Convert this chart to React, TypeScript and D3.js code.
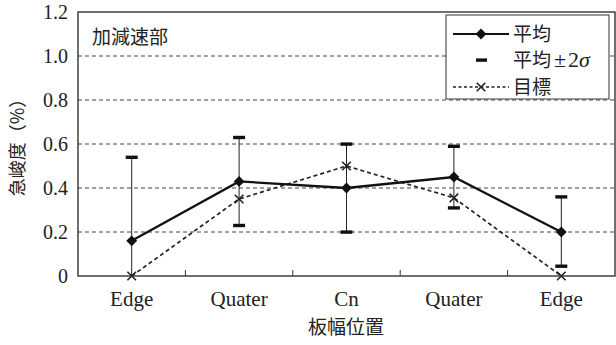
import React from "react";
import * as d3 from "d3";

// chart data
const categories = ["Edge", "Quater", "Cn", "Quater", "Edge"];
const meanValues = [0.16, 0.43, 0.4, 0.45, 0.2];
const upperValues = [0.54, 0.63, 0.6, 0.59, 0.36];
const lowerValues = [0, 0.23, 0.2, 0.31, 0.045];
const targetValues = [0, 0.35, 0.5, 0.355, 0];
const yTicks = [0, 0.2, 0.4, 0.6, 0.8, 1.0, 1.2];
const legendLabels = ["平均", "平均", "目標"];

const W = 616;
const H = 345;
const margin = { left: 78, right: 1, top: 12, bottom: 69 };
const FONT = "'Liberation Serif', 'DejaVu Serif', 'Noto Sans CJK JP', serif";
const JFONT = "'Noto Sans CJK JP', 'Liberation Serif', serif";

export default function App() {
  const x = d3
    .scaleBand<number>()
    .domain(categories.map((_, i) => i))
    .range([margin.left, W - margin.right]);
  const y = d3.scaleLinear().domain([0, 1.2]).range([H - margin.bottom, margin.top]);
  const cx = (i: number) => (x(i) as number) + x.bandwidth() / 2;

  const line = d3
    .line<number>()
    .x((_, i) => cx(i))
    .y((d) => y(d));

  const diamond = d3.symbol().type(d3.symbolDiamond2).size(75)();
  const cross = d3.symbol().type(d3.symbolTimes).size(50)();

  const x0 = margin.left;
  const x1 = W - margin.right;
  const yb = y(0);
  const yt = y(1.2);

  const lgX = 446;
  const lgY = 15;
  const rows = [34, 60, 87];

  return (
    <svg
      width={W}
      height={H}
      style={{ position: "absolute", left: 0, top: 0, background: "#fff" }}
    >
      {/* grid */}
      {yTicks.filter((t) => t > 0 && t < 1.2).map((t) => (
        <line key={t} x1={x0} x2={x1} y1={y(t)} y2={y(t)} stroke="#444" strokeWidth={1} strokeDasharray="4,3" />
      ))}
      {/* frame */}
      <rect x={x0} y={yt} width={x1 - x0} height={yb - yt} fill="none" stroke="#333" strokeWidth={1.4} />
      {/* x ticks between categories */}
      {categories.slice(1).map((_, i) => (
        <line key={i} x1={x(i + 1)} x2={x(i + 1)} y1={yb} y2={yb - 6} stroke="#333" strokeWidth={1} />
      ))}
      {/* y tick labels */}
      {yTicks.map((t) => (
        <text key={t} x={68} y={y(t)} dy="0.35em" textAnchor="end" fontFamily={FONT} fontSize={20} fill="#222">
          {t === 0 ? "0" : t.toFixed(1)}
        </text>
      ))}
      {/* x tick labels */}
      {categories.map((c, i) => (
        <text key={i} x={cx(i)} y={306} textAnchor="middle" fontFamily={FONT} fontSize={21} fill="#222">
          {c}
        </text>
      ))}
      {/* axis titles */}
      <text x={346} y={334} textAnchor="middle" fontFamily={JFONT} fontSize={19} fill="#222">
        板幅位置
      </text>
      <text
        transform="translate(18,143) rotate(-90)"
        dy="0.35em"
        textAnchor="middle"
        fontFamily={JFONT}
        fontSize={18}
        fill="#222"
      >
        急峻度（%）
      </text>
      <text x={92} y={44} fontFamily={JFONT} fontSize={19} fill="#222">
        加減速部
      </text>

      {/* error bars */}
      {meanValues.map((_, i) => (
        <g key={i}>
          <line x1={cx(i)} x2={cx(i)} y1={y(upperValues[i])} y2={y(lowerValues[i])} stroke="#222" strokeWidth={1} />
          <rect x={cx(i) - 6} y={y(upperValues[i]) - 1.6} width={12} height={3.4} fill="#111" />
          {lowerValues[i] > 0 && (
            <rect x={cx(i) - 6} y={y(lowerValues[i]) - 1.6} width={12} height={3.4} fill="#111" />
          )}
        </g>
      ))}

      {/* target */}
      <path d={line(targetValues) || ""} fill="none" stroke="#222" strokeWidth={1.7} strokeDasharray="4,3" />
      {targetValues.map((v, i) => (
        <path key={i} d={cross || ""} transform={`translate(${cx(i)},${y(v)})`} stroke="#222" strokeWidth={1.6} fill="none" />
      ))}

      {/* mean */}
      <path d={line(meanValues) || ""} fill="none" stroke="#111" strokeWidth={2.3} />
      {meanValues.map((v, i) => (
        <path key={i} d={diamond || ""} transform={`translate(${cx(i)},${y(v)})`} fill="#111" />
      ))}

      {/* legend */}
      <rect x={lgX} y={lgY} width={163} height={84} fill="#fff" stroke="#333" strokeWidth={1} />
      <line x1={453} x2={509} y1={rows[0]} y2={rows[0]} stroke="#111" strokeWidth={2} />
      <path d={diamond || ""} transform={`translate(481,${rows[0]})`} fill="#111" />
      <rect x={476} y={rows[1] - 1.6} width={11} height={3.4} fill="#111" />
      <line x1={453} x2={509} y1={rows[2]} y2={rows[2]} stroke="#222" strokeWidth={1.6} strokeDasharray="3,2.5" />
      <path d={cross || ""} transform={`translate(481,${rows[2]})`} stroke="#222" strokeWidth={1.6} fill="none" />
      {legendLabels.map((l, i) => (
        <text key={i} x={513} y={rows[i]} dy="0.35em" fontFamily={JFONT} fontSize={19} fill="#222">
          {l}
          {i === 1 && (
            <tspan fontFamily={FONT} fontSize={22}>
              <tspan dx={3}>±</tspan>
              <tspan dx={2}>2</tspan>
              <tspan fontStyle="italic">σ</tspan>
            </tspan>
          )}
        </text>
      ))}
    </svg>
  );
}
